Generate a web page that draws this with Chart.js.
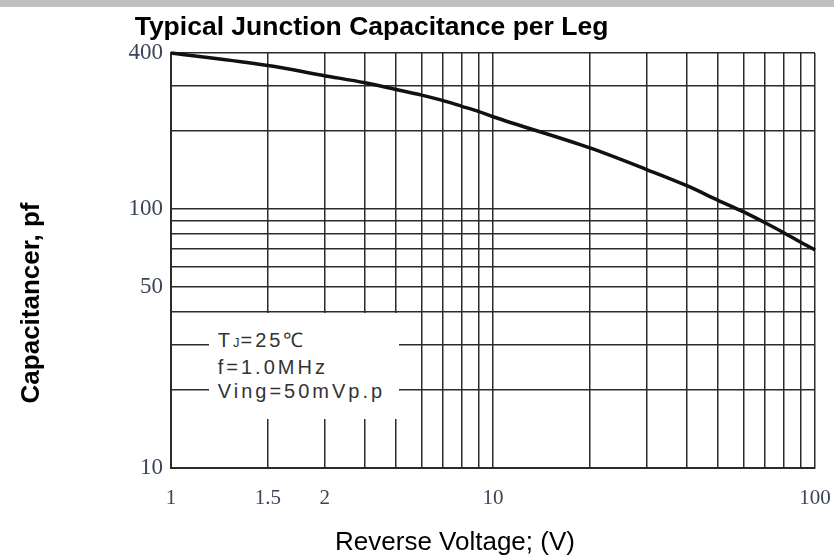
<!DOCTYPE html>
<html>
<head>
<meta charset="utf-8">
<script src="https://cdn.jsdelivr.net/npm/chart.js@4/dist/chart.umd.min.js"></script>
<style>
  html, body { margin: 0; padding: 0; background: #fff; }
  #wrap { position: relative; width: 834px; height: 555px; overflow: hidden; background: #fff; }
  #c { position: absolute; left: 0; top: 0; }
  #topbar { position: absolute; left: 0; top: 0; width: 834px; height: 7px; background: #c0c0c0; }
  #title { position: absolute; left: 0; top: 11px; width: 743px; height: 30px; line-height: 30px;
           text-align: center; font: bold 26.5px "Liberation Sans", Arial, sans-serif; color: #000; white-space: nowrap; }
  #xtitle { position: absolute; left: 255px; top: 526px; width: 400px; height: 30px; line-height: 30px;
            text-align: center; font: 26px "Liberation Sans", Arial, sans-serif; color: #000; white-space: nowrap; }
  #ytitle { position: absolute; left: -120.5px; top: 287.5px; width: 300px; height: 30px; line-height: 30px;
            text-align: center; font: bold 26px "Liberation Sans", Arial, sans-serif; color: #000; white-space: nowrap;
            transform: rotate(-90deg); }
  #note { position: absolute; background: #fff; box-sizing: border-box; padding: 15px 0 0 9px;
          font: 20px "Liberation Sans", Arial, sans-serif; letter-spacing: 3px; line-height: 24px; color: #333;
          white-space: nowrap; }
  #note .sub { font-size: 13px; letter-spacing: 1px; }
</style>
</head>
<body>
<div id="wrap">
  <canvas id="c" width="834" height="555"></canvas>
  <div id="topbar"></div>
  <div id="title">Typical Junction Capacitance per Leg</div>
  <div id="ytitle">Capacitancer, pf</div>
  <div id="xtitle">Reverse Voltage; (V)</div>
  <div id="note">T<span class="sub">J</span>=25℃<br>f=1.0MHz<br>Ving=50mVp.p</div>
</div>
<script>
// ---- data ----
const reverseVoltage = [1, 2, 3, 4, 5, 6, 7, 8, 9, 10, 20, 30, 40, 50, 60, 70, 80, 90, 100];
const capacitance    = [400, 358, 327, 307, 289, 275, 262, 249, 238, 227, 172, 142, 123, 108, 97.5, 88.5, 81, 74.5, 69.5];

// grid lines (log grid) and labelled ticks
const xGridValues = [1, 2, 3, 4, 5, 6, 7, 8, 9, 10, 20, 30, 40, 50, 60, 70, 80, 90, 100];
const yGridValues = [10, 20, 30, 40, 50, 60, 70, 80, 90, 100, 200, 300, 400];
const xTickValues = [1, 2, 3, 10, 100];
const xTickLabels = ['1', '1.5', '2', '10', '100'];
const yTickValues = [10, 50, 100, 400];
const yTickLabels = ['10', '50', '100', '400'];

// note box extent in data units (V from..to, pF top..bottom)
const noteV = [1.31, 5.1];
const notePF = [40, 15.4];

const gridColor = '#2b2b2b';
const tickColor = '#3b4458';

const noteBoxPlugin = {
  id: 'noteBox',
  afterRender(chart) {
    const x = chart.scales.x, y = chart.scales.y;
    const el = document.getElementById('note');
    const l = x.getPixelForValue(noteV[0]);
    const r = x.getPixelForValue(noteV[1]);
    const t = y.getPixelForValue(notePF[0]) + 1;
    const b = y.getPixelForValue(notePF[1]);
    el.style.left = l + 'px';
    el.style.top = t + 'px';
    el.style.width = (r - l) + 'px';
    el.style.height = (b - t) + 'px';
  }
};

new Chart(document.getElementById('c'), {
  type: 'line',
  data: {
    datasets: [{
      data: reverseVoltage.map((v, i) => ({ x: v, y: capacitance[i] })),
      borderColor: '#111',
      borderWidth: 3.5,
      pointRadius: 0,
      fill: false,
      cubicInterpolationMode: 'monotone',
      clip: false
    }]
  },
  options: {
    responsive: false,
    animation: false,
    devicePixelRatio: 1,
    layout: { padding: { left: 0, top: 53, right: 19, bottom: 47 } },
    plugins: { legend: { display: false }, title: { display: false }, tooltip: { enabled: false } },
    scales: {
      x: {
        type: 'logarithmic',
        min: 1, max: 100,
        afterBuildTicks: s => { s.ticks = xGridValues.map(v => ({ value: v })); },
        afterFit: s => { s.height = 40; s.paddingRight = 0; s.paddingLeft = 0; },
        grid: { color: gridColor, lineWidth: 1.5, drawTicks: false },
        border: { display: true, color: gridColor, width: 2 },
        ticks: {
          autoSkip: false, maxRotation: 0, padding: 18, color: tickColor,
          font: { family: '"Liberation Serif", "Times New Roman", serif', size: 21 },
          callback: v => { const i = xTickValues.indexOf(v); return i >= 0 ? xTickLabels[i] : ''; }
        }
      },
      y: {
        type: 'logarithmic',
        min: 10, max: 400,
        afterBuildTicks: s => { s.ticks = yGridValues.map(v => ({ value: v })); },
        afterFit: s => { s.width = 171; },
        grid: { color: gridColor, lineWidth: 1.5, drawTicks: false },
        border: { display: true, color: gridColor, width: 2 },
        ticks: {
          autoSkip: false, padding: 8, color: tickColor,
          font: { family: '"Liberation Serif", "Times New Roman", serif', size: 23 },
          callback: v => { const i = yTickValues.indexOf(v); return i >= 0 ? yTickLabels[i] : ''; }
        }
      }
    }
  },
  plugins: [noteBoxPlugin]
});
</script>
</body>
</html>
